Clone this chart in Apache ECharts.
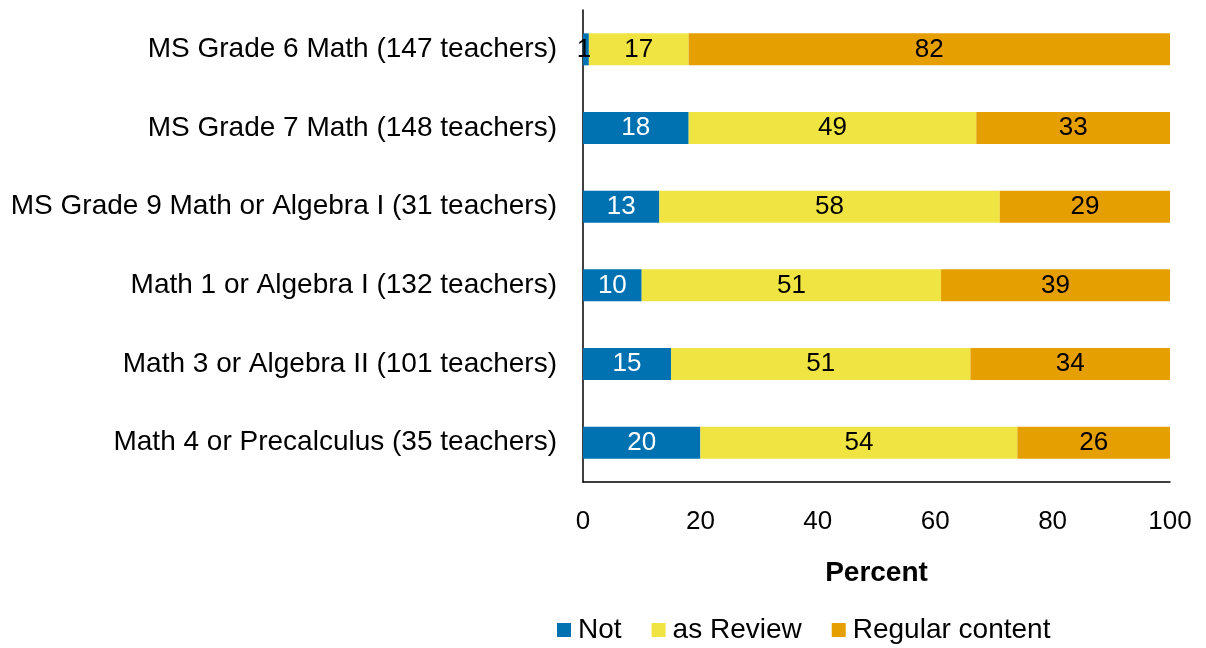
<!DOCTYPE html>
<html>
<head>
<meta charset="utf-8">
<script src="https://cdn.jsdelivr.net/npm/echarts@6/dist/echarts.min.js"></script>
<style>
  html, body { margin: 0; padding: 0; background: #ffffff; }
  #chart { width: 1206px; height: 648px; }
</style>
</head>
<body>
<div id="chart"></div>
<script>
// Course groups, top to bottom
const categories = [
  'MS Grade 6 Math (147 teachers)',
  'MS Grade 7 Math (148 teachers)',
  'MS Grade 9 Math or Algebra I (31 teachers)',
  'Math 1 or Algebra I (132 teachers)',
  'Math 3 or Algebra II (101 teachers)',
  'Math 4 or Precalculus (35 teachers)'
];

// Percent of teachers in each response group
const notValues = [1, 18, 13, 10, 15, 20];
const reviewValues = [17, 49, 58, 51, 51, 54];
const regularValues = [82, 33, 29, 39, 34, 26];

const seriesNames = ['Not', 'as Review', 'Regular content'];
const xTicks = [0, 20, 40, 60, 80, 100];

const FONT = '"Liberation Sans", Arial, sans-serif';
const colors = ['#0072B2', '#F0E442', '#E69F00'];
const labelColors = ['#ffffff', '#000000', '#000000'];

function makeSeries(name, values, idx) {
  return {
    name: name,
    type: 'bar',
    stack: 'total',
    barWidth: 32,
    itemStyle: { color: colors[idx] },
    label: {
      show: true,
      position: 'inside',
      color: labelColors[idx],
      fontFamily: FONT,
      fontSize: 26,
      padding: [3, 0, 0, 0],
      formatter: p => String(p.value)
    },
    // very thin segments get a dark label so the number stays readable
    data: values.map(v => v < 3
      ? { value: v, label: { color: '#000000', offset: [-2, 0] } }
      : v),
    emphasis: { disabled: true }
  };
}

const chart = echarts.init(document.getElementById('chart'), null, { renderer: 'canvas' });
chart.setOption({
  animation: false,
  backgroundColor: '#ffffff',
  textStyle: { fontFamily: FONT },
  grid: { left: 583, right: 36, top: 10, bottom: 166, containLabel: false },
  xAxis: {
    type: 'value',
    min: xTicks[0],
    max: xTicks[xTicks.length - 1],
    interval: xTicks[1] - xTicks[0],
    name: 'Percent',
    nameLocation: 'middle',
    nameGap: 77,
    nameTextStyle: { fontFamily: FONT, fontSize: 28, fontWeight: 'bold', color: '#000000' },
    axisLine: { show: true, lineStyle: { color: '#000000', width: 1.5 } },
    axisTick: { show: false },
    splitLine: { show: false },
    axisLabel: { fontFamily: FONT, fontSize: 26, color: '#000000', margin: 27 }
  },
  yAxis: {
    type: 'category',
    data: categories,
    inverse: true,
    axisLine: { show: true, lineStyle: { color: '#000000', width: 1.5 } },
    axisTick: { show: false },
    axisLabel: { fontFamily: FONT, fontSize: 28, color: '#000000', margin: 26, padding: [4, 0, 0, 0] }
  },
  legend: {
    data: seriesNames,
    left: 557,
    top: 616,
    padding: 0,
    icon: 'rect',
    itemWidth: 14,
    itemHeight: 14,
    itemGap: 30,
    selectedMode: false,
    textStyle: { fontFamily: FONT, fontSize: 28, color: '#000000', padding: [0, 0, 0, 2] }
  },
  series: [
    makeSeries(seriesNames[0], notValues, 0),
    makeSeries(seriesNames[1], reviewValues, 1),
    makeSeries(seriesNames[2], regularValues, 2)
  ]
});
</script>
</body>
</html>
